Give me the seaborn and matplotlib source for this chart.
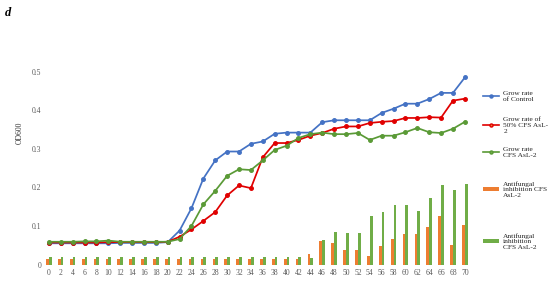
import numpy as np
import pandas as pd
import matplotlib
matplotlib.use("Agg")
import matplotlib.pyplot as plt
import seaborn as sns
from matplotlib.lines import Line2D
from matplotlib.patches import Patch

hours = [str(h) for h in range(0, 72, 2)]

control = [0.055, 0.055, 0.055, 0.055, 0.055, 0.055, 0.056, 0.056, 0.056, 0.056, 0.058,
           0.088, 0.146, 0.223, 0.270, 0.293, 0.293, 0.313, 0.319, 0.339, 0.342, 0.342,
           0.342, 0.369, 0.374, 0.374, 0.374, 0.374, 0.393, 0.404, 0.417, 0.417, 0.429,
           0.445, 0.445, 0.485]
cfs50 = [0.057, 0.057, 0.057, 0.057, 0.057, 0.058, 0.058, 0.058, 0.058, 0.058, 0.059,
         0.072, 0.091, 0.113, 0.136, 0.179, 0.205, 0.198, 0.278, 0.315, 0.315, 0.323,
         0.334, 0.341, 0.352, 0.358, 0.358, 0.367, 0.370, 0.372, 0.380, 0.380, 0.382,
         0.381, 0.425, 0.430]
cfs = [0.059, 0.059, 0.059, 0.060, 0.060, 0.062, 0.059, 0.059, 0.059, 0.059, 0.059,
       0.066, 0.100, 0.156, 0.191, 0.230, 0.247, 0.245, 0.270, 0.297, 0.308, 0.328,
       0.338, 0.342, 0.338, 0.338, 0.341, 0.323, 0.334, 0.334, 0.343, 0.354, 0.343,
       0.341, 0.352, 0.370]
inhib_orange = [0.013] * 22 + [0.026, 0.062, 0.055, 0.038, 0.038, 0.023, 0.048, 0.067,
                               0.080, 0.080, 0.096, 0.126, 0.051, 0.103]
inhib_green = [0.019] * 22 + [0.016, 0.064, 0.084, 0.082, 0.082, 0.126, 0.135, 0.154,
                              0.154, 0.140, 0.173, 0.207, 0.193, 0.209]

series_names = ["Grow rate\nof Control", "Grow rate of\n50% CFS AsL-\n2", "Grow rate\nCFS AsL-2",
                "Antifungal\ninhibition CFS\nAsL-2", "Antifungal\ninhibition\nCFS AsL-2"]

BLUE = "#4472C4"
RED = "#E00000"
ORANGE = "#ED7D31"
GREEN_LINE = "#5A9A36"
GREEN = "#70AD47"

plt.rcParams["font.family"] = ["Liberation Serif", "DejaVu Serif"]

fig = plt.figure(figsize=(5.5, 2.81), dpi=100)
ax = fig.add_axes([0.078, 0.0587, 0.778, 0.7548])

bars = pd.DataFrame({
    "hour": hours * 2,
    "value": inhib_orange + inhib_green,
    "series": ["orange"] * len(hours) + ["green"] * len(hours),
})
sns.barplot(data=bars, x="hour", y="value", hue="series", order=hours,
            palette={"orange": ORANGE, "green": GREEN}, width=0.46,
            gap=0.0, legend=False, ax=ax, saturation=1)

for vals, col, mfc in [(control, BLUE, BLUE), (cfs50, RED, ORANGE), (cfs, GREEN_LINE, GREEN)]:
    sns.pointplot(x=hours, y=vals, order=hours, color=col, markers="o",
                  markersize=2.6, linewidth=1.25, ax=ax)
    ln = ax.lines[-1]
    ln.set_markerfacecolor(mfc)
    ln.set_markeredgecolor(col)
    ln.set_markeredgewidth(0.6)

ax.set_ylim(0, 0.55)
ax.set_xlim(-0.5, 35.5)
ax.set_yticks([0, 0.1, 0.2, 0.3, 0.4, 0.5])
ax.set_yticklabels(["0", "0.1", "0.2", "0.3", "0.4", "0.5"])
for s in ax.spines.values():
    s.set_visible(False)
ax.tick_params(axis="both", length=0, labelsize=5.5, labelcolor="#595959")
ax.tick_params(axis="y", pad=1)
ax.tick_params(axis="x", pad=3)
ax.set_xlabel("")
ax.set_ylabel("OD600", fontsize=5.5, color="#333333")
ax.yaxis.set_label_coords(-0.044, 0.62)
ax.grid(False)

handles = [
    Line2D([], [], color=BLUE, marker="o", markersize=2.2, markerfacecolor=BLUE, lw=1.2),
    Line2D([], [], color=RED, marker="o", markersize=2.2, markerfacecolor=ORANGE, lw=1.2),
    Line2D([], [], color=GREEN_LINE, marker="o", markersize=2.2, markerfacecolor=GREEN, lw=1.2),
    Patch(facecolor=ORANGE),
    Patch(facecolor=GREEN),
]
tops = [91, 117, 147, 181, 233]
for h, name, top in zip(handles, series_names, tops):
    leg = fig.legend([h], [name], loc="upper left",
                     bbox_to_anchor=(483 / 550, 1 - top / 281),
                     frameon=False, fontsize=5.3, handlelength=2.2,
                     handleheight=0.6, handletextpad=0.55, borderpad=0, borderaxespad=0)
    for t in leg.get_texts():
        t.set_color("#222222")

fig.text(5 / 550, 1 - 16 / 281, "d", fontsize=9, fontweight="bold", fontstyle="italic")

fig.savefig("out.png", dpi=100)
